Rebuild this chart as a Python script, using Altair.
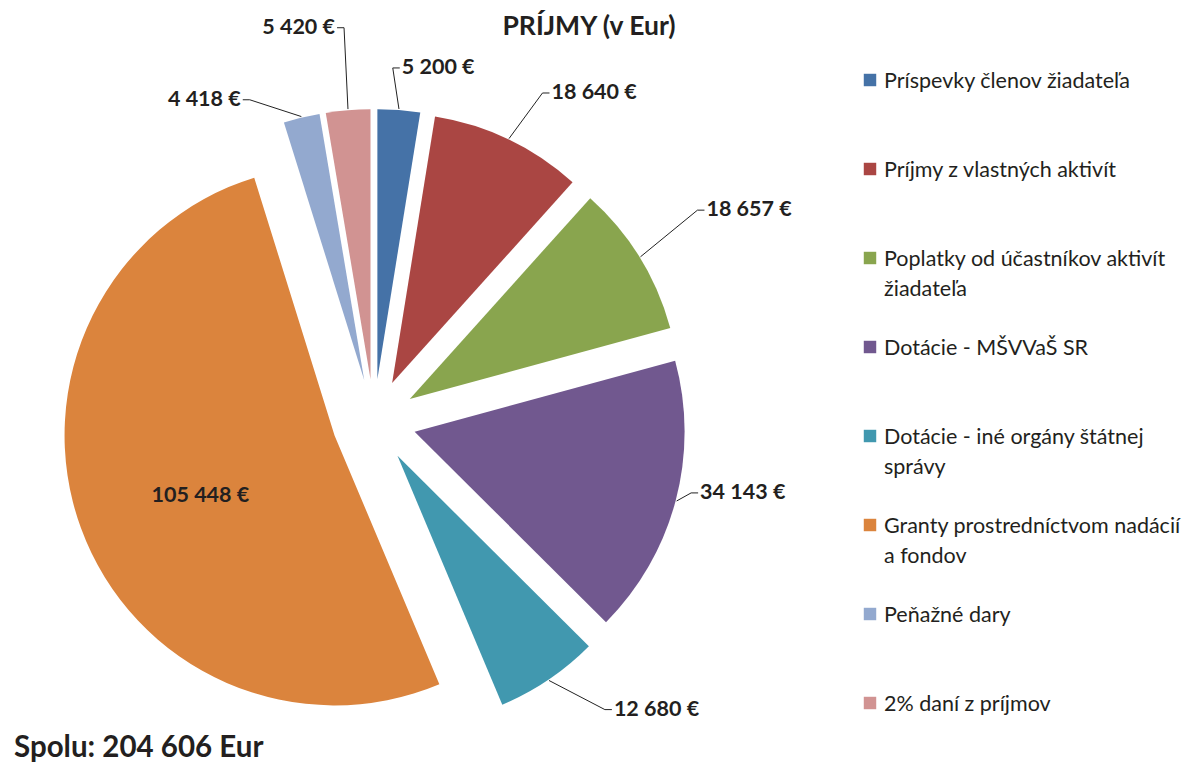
import textwrap
import altair as alt
import pandas as pd

# ---- data ----
categories = [
    "Príspevky členov žiadateľa",
    "Príjmy z vlastných aktivít",
    "Poplatky od účastníkov aktivít žiadateľa",
    "Dotácie - MŠVVaŠ SR",
    "Dotácie - iné orgány štátnej správy",
    "Granty prostredníctvom nadácií a fondov",
    "Peňažné dary",
    "2% daní z príjmov",
]
values = [5200, 18640, 18657, 34143, 12680, 105448, 4418, 5420]
colors = ["#4572A7", "#AA4643", "#89A54E", "#71588F", "#4198AF", "#DB843D", "#93A9CF", "#D19392"]

# ---- layout (label placement relative to slice mid-angle) ----
label_nudge_deg = [-0.4, 2.6, -0.9, -2.3, -5.5, -3.2, -8.8, -0.6]
label_dist = [354, 372, 392, 332, 374, 189, 347, 395]
inside_label = [False, False, False, False, False, True, False, False]

CX, CY, R, EXPLODE = 374, 421, 270, 42
LEG_Y0, LEG_STEP = 80, 89
FONT = "Lato"
TXT = "#231F20"

def fmt(v):
    return f"{v:,}".replace(",", " ")

df = pd.DataFrame({
    "order": list(range(len(categories))),
    "category": categories,
    "value": values,
    "label": [fmt(v) + " €" for v in values],
    "nudge": label_nudge_deg,
    "ldist": label_dist,
    "inside": inside_label,
    "legend_text": [textwrap.fill(c, 30) for c in categories],
})

color_scale = alt.Scale(domain=categories, range=colors)

base = (
    alt.Chart(df)
    .transform_window(cum="sum(value)", sort=[alt.SortField("order")], frame=[None, 0])
    .transform_joinaggregate(total="sum(value)")
    .transform_calculate(t1="2*PI*datum.cum/datum.total")
    .transform_calculate(t0="2*PI*(datum.cum-datum.value)/datum.total")
    .transform_calculate(mid="(datum.t0+datum.t1)/2")
    .transform_calculate(px=f"{CX}+{EXPLODE}*sin(datum.mid)")
    .transform_calculate(py=f"{CY}-{EXPLODE}*cos(datum.mid)")
    .transform_calculate(sx=f"datum.px+{R + 1}*sin(datum.mid)")
    .transform_calculate(sy=f"datum.py-{R + 1}*cos(datum.mid)")
    .transform_calculate(la="datum.mid+datum.nudge*PI/180")
    .transform_calculate(lx=f"{CX}+datum.ldist*sin(datum.la)")
    .transform_calculate(ly=f"{CY}-datum.ldist*cos(datum.la)")
    .transform_calculate(right="sin(datum.la)>0")
    .transform_calculate(ex="datum.right ? datum.lx-7 : datum.lx+7")
)

arcs = base.mark_arc(outerRadius=R).encode(
    x=alt.X("px:Q", scale=None, axis=None),
    y=alt.Y("py:Q", scale=None, axis=None),
    theta=alt.Theta("t0:Q", scale=None),
    theta2="t1:Q",
    color=alt.Color("category:N", scale=color_scale, legend=None),
)

outside = base.transform_filter("!datum.inside")

leader = outside.mark_rule(color="#222", strokeWidth=1).encode(
    x=alt.X("sx:Q", scale=None, axis=None),
    y=alt.Y("sy:Q", scale=None, axis=None),
    x2="ex:Q",
    y2="ly:Q",
)
tail = outside.mark_rule(color="#222", strokeWidth=1).encode(
    x=alt.X("ex:Q", scale=None, axis=None),
    y=alt.Y("ly:Q", scale=None, axis=None),
    x2="lx:Q",
    y2="ly:Q",
)

lab_style = dict(font=FONT, fontSize=21.5, fontWeight="bold", color=TXT, baseline="middle")
lab_right = outside.transform_filter("datum.right").mark_text(align="left", dx=2, **lab_style).encode(
    x=alt.X("lx:Q", scale=None, axis=None), y=alt.Y("ly:Q", scale=None, axis=None), text="label:N")
lab_left = outside.transform_filter("!datum.right").mark_text(align="right", dx=-2, **lab_style).encode(
    x=alt.X("lx:Q", scale=None, axis=None), y=alt.Y("ly:Q", scale=None, axis=None), text="label:N")
lab_in = base.transform_filter("datum.inside").mark_text(align="center", **lab_style).encode(
    x=alt.X("lx:Q", scale=None, axis=None), y=alt.Y("ly:Q", scale=None, axis=None), text="label:N")

# ---- legend (manual) ----
leg = alt.Chart(df).transform_calculate(gy=f"{LEG_Y0}+datum.order*{LEG_STEP}")
leg_sym = leg.mark_square(size=155, opacity=1).encode(
    x=alt.value(870),
    y=alt.Y("gy:Q", scale=None, axis=None),
    color=alt.Color("category:N", scale=color_scale, legend=None),
)
leg_txt = leg.mark_text(align="left", baseline="alphabetic", dy=7.5, lineBreak="\n", lineHeight=30,
                        font=FONT, fontSize=21.5, color=TXT).encode(
    x=alt.value(884),
    y=alt.Y("gy:Q", scale=None, axis=None),
    text="legend_text:N",
)

one = alt.Data(values=[{}])
title = alt.Chart(one).mark_text(text="PRÍJMY (v Eur)", font=FONT, fontSize=26.5, fontWeight="bold",
                                 color=TXT, align="center", baseline="middle").encode(
    x=alt.value(589), y=alt.value(27))
total = alt.Chart(one).mark_text(text=f"Spolu: {fmt(sum(values))} Eur", font=FONT, fontSize=29.5,
                                 fontWeight="bold", color=TXT, align="left", baseline="middle").encode(
    x=alt.value(14), y=alt.value(748))

chart = (
    alt.layer(arcs, leader, tail, lab_right, lab_left, lab_in, leg_sym, leg_txt, title, total)
    .properties(width=1188, height=766, padding=0, autosize=alt.AutoSizeParams(type="none"),
                background="white")
    .configure_view(strokeWidth=0)
)

chart.save("out.html", embed_options={"renderer": "svg", "actions": False})
